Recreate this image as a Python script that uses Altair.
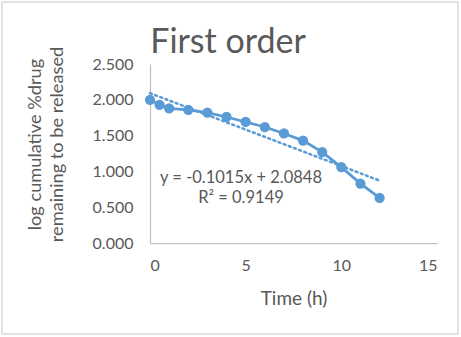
import altair as alt
import pandas as pd

time_h = [0, 0.5, 1, 2, 3, 4, 5, 6, 7, 8, 9, 10, 11, 12]
log_remaining = [2.000, 1.93, 1.88, 1.86, 1.82, 1.76, 1.69, 1.62, 1.53, 1.43, 1.27, 1.06, 0.83, 0.63]
x_ticks = [0, 5, 10, 15]
y_ticks = [0.0, 0.5, 1.0, 1.5, 2.0, 2.5]
equation_lines = ["y = -0.1015x + 2.0848", "R² = 0.9149"]
y_title_lines = ["log cumulative %drug", "remaining to be released"]
chart_title = "First order"

df = pd.DataFrame({"time": time_h, "logrem": log_remaining})

BLUE = "#5B9BD5"
GRAY = "#595959"
FONT = "Lato"

base = alt.Chart(df)

x_enc = alt.X(
    "time:Q",
    scale=alt.Scale(domain=[0, 15], nice=False, zero=False),
    axis=alt.Axis(
        values=x_ticks, title="Time (h)", grid=False, ticks=False,
        labelPadding=14, titleY=55, titleBaseline="middle", labelOverlap=False,
        titleFontSize=19,
    ),
)
y_enc = alt.Y(
    "logrem:Q",
    scale=alt.Scale(domain=[0, 2.5], nice=False),
    axis=alt.Axis(
        values=y_ticks, format=".3f", title=y_title_lines, grid=False, ticks=False,
        labelPadding=17, titleX=-115, titleY=80, titleBaseline="middle",
        titleAlign="center", titleAngle=-90, titleLineHeight=22, labelOverlap=False,
        titleFontSize=18.2,
    ),
)

line = base.mark_line(color=BLUE, strokeWidth=2.75, clip=False).encode(x=x_enc, y=y_enc)
points = base.mark_circle(color=BLUE, size=105, opacity=1, clip=False).encode(x=x_enc, y=y_enc)

trend = base.transform_regression("time", "logrem", extent=[0, 12]).mark_line(
    color=BLUE, strokeWidth=2.5, strokeDash=[2, 3.5], strokeCap="round"
).encode(x=x_enc, y=y_enc)

eq = alt.Chart(pd.DataFrame({"t": [equation_lines]})).mark_text(
    font=FONT, fontSize=16.5, color=GRAY, align="center", baseline="middle", lineHeight=20
).encode(text="t:N", x=alt.value(91), y=alt.value(114))

title = alt.Chart(pd.DataFrame({"t": [chart_title]})).mark_text(
    font=FONT, fontSize=34, color=GRAY, align="center", baseline="alphabetic"
).encode(text="t:N", x=alt.value(78), y=alt.value(-11))

border = alt.Chart(pd.DataFrame({"a": [0]})).mark_rect(
    fill="transparent", stroke="#d9d9d9", strokeWidth=1.5
).encode(x=alt.value(-148), x2=alt.value(308), y=alt.value(-62), y2=alt.value(270))

chart = alt.layer(border, trend, line, points, eq, title).properties(
    width=287,
    height=179,
    autosize=alt.AutoSizeParams(type="none"),
    padding={"left": 150, "top": 64, "right": 24, "bottom": 94},
    background="white",
).configure_axis(
    domainColor="#bfbfbf", domainWidth=1.25,
    labelFont=FONT, labelFontSize=16, labelColor=GRAY,
    titleFont=FONT, titleColor=GRAY, titleFontWeight="normal",
).configure_view(stroke=None)

chart.save("out.html", embed_options={"renderer": "svg", "actions": False})
